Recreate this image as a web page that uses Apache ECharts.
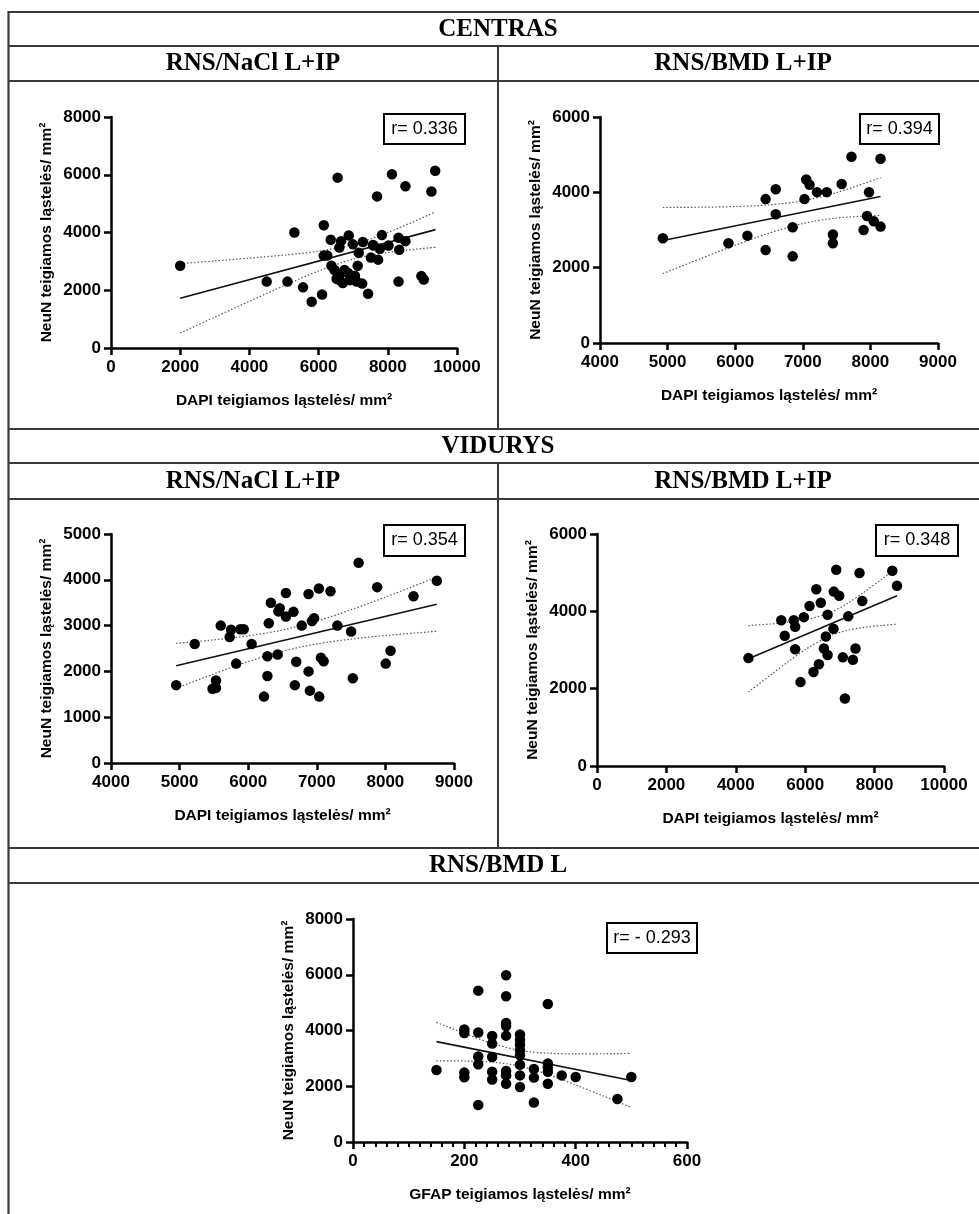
<!DOCTYPE html>
<html>
<head>
<meta charset="utf-8">
<script src="https://cdn.jsdelivr.net/npm/echarts@6/dist/echarts.min.js"></script>
<style>
  html, body { margin: 0; padding: 0; background: #fff; }
  #chart { width: 979px; height: 1214px; }
</style>
</head>
<body>
<div id="chart"></div>
<script>
// ---- CENTRAS, RNS/NaCl L+IP : DAPI vs NeuN ----
const centrasNaclPoints = [
  [2000,2850],[4500,2300],[5100,2300],[5300,4000],[5550,2100],[5800,1600],[6100,1850],
  [6150,4250],[6150,3200],[6250,3200],[6350,3750],[6370,2850],[6460,2700],[6550,5900],
  [6520,2400],[6600,2350],[6600,3480],[6650,3700],[6700,2250],[6750,2700],[6620,2550],
  [6870,3900],[6850,2600],[6900,2350],[6990,3590],[7050,2500],[7130,2850],[7160,3300],
  [7100,2300],[7260,2230],[7280,3670],[7430,1880],[7510,3130],[7570,3570],[7590,3550],
  [7690,5250],[7720,3060],[7770,3440],[7830,3910],[8020,3550],[8120,6020],[8310,3820],
  [8330,3400],[8310,2300],[8510,3700],[8510,5600],[8970,2490],[9040,2370],[9260,5420],
  [9370,6140]
];
const centrasNaclFit = [[2000,1720],[9380,4100]];
const centrasNaclUpper = [[2000,2920],[3000,3014],[4000,3112],[5000,3219],[6000,3353],[7000,3582],[8000,3998],[9380,4712]];
const centrasNaclLower = [[2000,520],[3000,1070],[4000,1618],[5000,2155],[6000,2667],[7000,3082],[8000,3312],[9380,3488]];
const centrasNaclR = 'r= 0.336';

// ---- CENTRAS, RNS/BMD L+IP ----
const centrasBmdPoints = [
  [4930,2780],[5900,2650],[6180,2850],[6450,3820],[6450,2470],[6600,4080],[6600,3420],
  [6850,3075],[6850,2300],[7025,3820],[7050,4340],[7100,4200],[7210,4005],[7355,4005],
  [7445,2880],[7445,2650],[7575,4220],[7720,4945],[7900,3000],[7950,3370],[7980,4000],
  [8050,3230],[8150,3090],[8150,4890]
];
const centrasBmdFit = [[4930,2720],[8150,3890]];
const centrasBmdUpper = [[4930,3597],[5500,3605],[6000,3623],[6500,3667],[7000,3775],[7500,3992],[8150,4391]];
const centrasBmdLower = [[4930,1843],[5500,2249],[6000,2595],[6500,2915],[7000,3171],[7500,3318],[8150,3389]];
const centrasBmdR = 'r= 0.394';

// ---- VIDURYS, RNS/NaCl L+IP ----
const vidurysNaclPoints = [
  [4950,1700],[5220,2600],[5480,1620],[5530,1640],[5530,1800],[5600,3000],[5730,2750],
  [5750,2910],[5825,2170],[5885,2920],[5935,2920],[6050,2600],[6230,1450],[6280,2330],
  [6280,1900],[6300,3050],[6330,3500],[6430,2370],[6440,3310],[6460,3380],[6550,3200],
  [6550,3710],[6660,3300],[6680,1700],[6700,2210],[6780,3000],[6880,3690],[6880,2000],
  [6900,1580],[6930,3100],[6960,3160],[7030,3810],[7035,1450],[7060,2300],[7100,2220],
  [7200,3750],[7300,3000],[7500,2870],[7525,1850],[7610,4370],[7880,3840],[8005,2170],
  [8075,2450],[8410,3640],[8750,3980]
];
const vidurysNaclFit = [[4950,2122],[8750,3467]];
const vidurysNaclUpper = [[4950,2612],[5500,2689],[6000,2776],[6500,2904],[7000,3098],[7500,3345],[8000,3623],[8750,4057]];
const vidurysNaclLower = [[4950,1632],[5500,1947],[6000,2214],[6500,2440],[7000,2600],[7500,2705],[8000,2783],[8750,2877]];
const vidurysNaclR = 'r= 0.354';

// ---- VIDURYS, RNS/BMD L+IP ----
const vidurysBmdPoints = [
  [4365,2790],[5310,3770],[5410,3370],[5670,3770],[5710,3600],[5710,3020],[5865,2170],
  [5960,3850],[6125,4140],[6240,2430],[6320,4570],[6395,2630],[6450,4220],[6540,3040],
  [6595,3350],[6645,3910],[6645,2870],[6815,3550],[6825,4510],[6895,5075],[6980,4400],
  [7085,2810],[7145,1745],[7240,3870],[7375,2745],[7450,3040],[7565,4990],[7645,4265],
  [8510,5050],[8645,4660]
];
const vidurysBmdFit = [[4365,2771],[8645,4402]];
const vidurysBmdUpper = [[4365,3631],[5000,3672],[5500,3715],[6000,3779],[6700,3960],[7200,4197],[7700,4498],[8200,4830],[8645,5136]];
const vidurysBmdLower = [[4365,1911],[5000,2354],[5500,2691],[6000,3009],[6700,3360],[7200,3505],[7700,3584],[8200,3634],[8645,3668]];
const vidurysBmdR = 'r= 0.348';

// ---- RNS/BMD L : GFAP vs NeuN ----
const bmdLPoints = [
  [150,2580],
  [200,4040],[200,3910],[200,2490],[200,2320],
  [225,5430],[225,3930],[225,3070],[225,2790],[225,1330],
  [250,3800],[250,3530],[250,3050],[250,2520],[250,2240],
  [275,5980],[275,5230],[275,4270],[275,4160],[275,3815],[275,2550],[275,2390],[275,2090],
  [300,3860],[300,3670],[300,3490],[300,3290],[300,3110],[300,2770],[300,2390],[300,1970],
  [325,2620],[325,2310],[325,1420],
  [350,4950],[350,2820],[350,2670],[350,2520],[350,2090],
  [375,2390],[400,2330],[475,1540],[500,2330]
];
const bmdLFit = [[150,3600],[500,2208]];
const bmdLUpper = [[150,4290],[200,3896],[250,3537],[300,3285],[350,3186],[400,3162],[450,3166],[500,3178]];
const bmdLLower = [[150,2910],[200,2906],[250,2867],[300,2721],[350,2422],[400,2048],[450,1648],[500,1238]];
const bmdLR = 'r= - 0.293';

// ---- axis ranges and tick steps ----
const dapiAxisA = { min: 0, max: 10000, interval: 2000 };
const dapiAxisB = { min: 4000, max: 9000, interval: 1000 };
const gfapAxis = { min: 0, max: 600, interval: 200 };
const neun8000 = { min: 0, max: 8000, interval: 2000 };
const neun6000 = { min: 0, max: 6000, interval: 2000 };
const neun5000 = { min: 0, max: 5000, interval: 1000 };

// ---- titles ----
const sectionTitles = ['CENTRAS', 'VIDURYS', 'RNS/BMD L'];
const groupTitles = ['RNS/NaCl L+IP', 'RNS/BMD L+IP'];
const xNameDapi = 'DAPI teigiamos ląstelės/ mm²';
const xNameGfap = 'GFAP teigiamos ląstelės/ mm²';
const yNameNeun = 'NeuN teigiamos ląstelės/ mm²';

const SANS = 'Liberation Sans';
const SERIF = 'Liberation Serif';

const panels = [
  { grid: { left: 111, top: 117, width: 346, height: 231 }, x: dapiAxisA, y: neun8000, xName: xNameDapi,
    pts: centrasNaclPoints, fit: centrasNaclFit, up: centrasNaclUpper, lo: centrasNaclLower, r: centrasNaclR,
    box: [383, 113, 81, 30] },
  { grid: { left: 600, top: 117, width: 338, height: 226 }, x: dapiAxisB, y: neun6000, xName: xNameDapi,
    pts: centrasBmdPoints, fit: centrasBmdFit, up: centrasBmdUpper, lo: centrasBmdLower, r: centrasBmdR,
    box: [859, 113, 79, 30] },
  { grid: { left: 111, top: 534, width: 343, height: 229 }, x: dapiAxisB, y: neun5000, xName: xNameDapi,
    pts: vidurysNaclPoints, fit: vidurysNaclFit, up: vidurysNaclUpper, lo: vidurysNaclLower, r: vidurysNaclR,
    box: [383, 524, 81, 31] },
  { grid: { left: 597, top: 534, width: 347, height: 232 }, x: dapiAxisA, y: neun6000, xName: xNameDapi,
    pts: vidurysBmdPoints, fit: vidurysBmdFit, up: vidurysBmdUpper, lo: vidurysBmdLower, r: vidurysBmdR,
    box: [875, 524, 82, 31] },
  { grid: { left: 353, top: 919, width: 334, height: 223 }, x: gfapAxis, y: neun8000, xName: xNameGfap,
    pts: bmdLPoints, fit: bmdLFit, up: bmdLUpper, lo: bmdLLower, r: bmdLR,
    box: [606, 922, 90, 30], minor: true }
];

const axisLineStyle = { color: '#000', width: 2.5 };
const plainNumber = v => String(v);
const grids = [], xAxes = [], yAxes = [], series = [], graphics = [];

panels.forEach((p, i) => {
  grids.push(Object.assign({ containLabel: false }, p.grid));
  xAxes.push({
    type: 'value', gridIndex: i, min: p.x.min, max: p.x.max, interval: p.x.interval,
    name: p.xName, nameLocation: 'middle', nameGap: 45,
    nameTextStyle: { color: '#000', fontFamily: SANS, fontWeight: 'bold', fontSize: 15.5 },
    axisLine: { show: true, onZero: false, lineStyle: axisLineStyle },
    axisTick: { show: true, length: 7, lineStyle: axisLineStyle },
    minorTick: { show: !!p.minor, splitNumber: 10, length: 5, lineStyle: { color: '#000', width: 2 } },
    axisLabel: { color: '#000', fontFamily: SANS, fontWeight: 'bold', fontSize: 17, margin: 11, formatter: plainNumber },
    splitLine: { show: false }
  });
  yAxes.push({
    type: 'value', gridIndex: i, min: p.y.min, max: p.y.max, interval: p.y.interval,
    name: yNameNeun, nameLocation: 'middle', nameGap: 56,
    nameTextStyle: { color: '#000', fontFamily: SANS, fontWeight: 'bold', fontSize: 15.5 },
    axisLine: { show: true, onZero: false, lineStyle: axisLineStyle },
    axisTick: { show: true, length: 7, lineStyle: axisLineStyle },
    axisLabel: { color: '#000', fontFamily: SANS, fontWeight: 'bold', fontSize: 17, margin: 10, formatter: plainNumber },
    splitLine: { show: false }
  });
  const band = { color: '#555', width: 1.2, type: [1.5, 2] };
  series.push(
    { type: 'line', xAxisIndex: i, yAxisIndex: i, data: p.up, smooth: 0.3, symbol: 'none',
      lineStyle: band, silent: true, z: 2 },
    { type: 'line', xAxisIndex: i, yAxisIndex: i, data: p.lo, smooth: 0.3, symbol: 'none',
      lineStyle: band, silent: true, z: 2 },
    { type: 'line', xAxisIndex: i, yAxisIndex: i, data: p.fit, symbol: 'none',
      lineStyle: { color: '#111', width: 1.6 }, silent: true, z: 3 },
    { type: 'scatter', xAxisIndex: i, yAxisIndex: i, data: p.pts, symbol: 'circle', symbolSize: 10.5,
      itemStyle: { color: '#000', opacity: 1 }, z: 4 }
  );
  const [bx, by, bw, bh] = p.box;
  graphics.push({
    type: 'group', left: bx, top: by, children: [
      { type: 'rect', shape: { x: 0, y: 0, width: bw, height: bh },
        style: { fill: '#fff', stroke: '#000', lineWidth: 2 } },
      { type: 'text', x: bw / 2, y: bh / 2,
        style: { text: p.r, fontFamily: SANS, fontSize: 18, fill: '#000', align: 'center', verticalAlign: 'middle' } }
    ], z: 10
  });
});

// table frame
const lineColor = '#3a3a3a';
const hLines = [12, 46, 81, 429, 463, 499, 848, 883];
hLines.forEach(y => graphics.push({ type: 'line', shape: { x1: 8, y1: y, x2: 990, y2: y },
  style: { stroke: lineColor, lineWidth: 2 } }));
graphics.push({ type: 'line', shape: { x1: 8.5, y1: 11, x2: 8.5, y2: 1214 }, style: { stroke: lineColor, lineWidth: 2.2 } });
graphics.push({ type: 'line', shape: { x1: 498, y1: 46, x2: 498, y2: 429 }, style: { stroke: lineColor, lineWidth: 2 } });
graphics.push({ type: 'line', shape: { x1: 498, y1: 463, x2: 498, y2: 848 }, style: { stroke: lineColor, lineWidth: 2 } });

function header(text, cx, cy) {
  return { type: 'text', x: cx, y: cy,
    style: { text, fontFamily: SERIF, fontWeight: 'bold', fontSize: 25, fill: '#000', align: 'center', verticalAlign: 'middle' } };
}
graphics.push(header(sectionTitles[0], 498, 30));
graphics.push(header(groupTitles[0], 253, 64));
graphics.push(header(groupTitles[1], 743, 64));
graphics.push(header(sectionTitles[1], 498, 447));
graphics.push(header(groupTitles[0], 253, 482));
graphics.push(header(groupTitles[1], 743, 482));
graphics.push(header(sectionTitles[2], 498, 866));

const chart = echarts.init(document.getElementById('chart'), null, { renderer: 'canvas' });
chart.setOption({
  animation: false,
  backgroundColor: '#fff',
  grid: grids, xAxis: xAxes, yAxis: yAxes, series, graphic: graphics
});
</script>
</body>
</html>
